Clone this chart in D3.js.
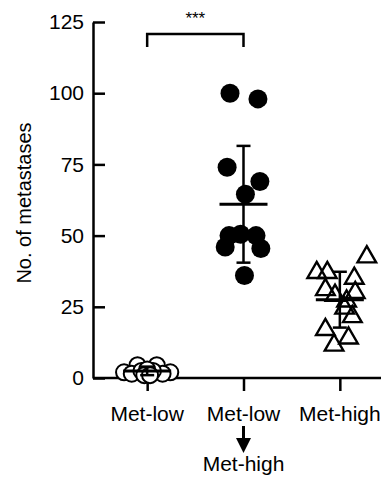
<!DOCTYPE html>
<html>
<head>
<meta charset="utf-8">
<script src="https://cdn.jsdelivr.net/npm/d3@7"></script>
<style>
  body { margin: 0; background: #fff; }
  text { font-family: "Liberation Sans", Arial, sans-serif; fill: #000; }
</style>
</head>
<body>
<div id="grafica"></div>
<script>
// --- data
const categories = ['lowLow', 'lowHigh', 'high'];
const yTicks = [0, 25, 50, 75, 100, 125];

// Met-low (open circles)
const metLow = [2, 4.5, 4.5, 2, 1.5, 1.5, 2.5, 2.5, 3, 1, 1];
const metLowJitter = [-0.24, -0.1, 0.1, 0.24, -0.16, 0.16, -0.06, 0.06, 0, -0.03, 0.03];

// Met-low -> Met-high (filled circles)
const metLowHigh = [100, 98, 74, 69, 64.5, 50, 50.5, 50, 46, 45.5, 36];
const metLowHighJitter = [-0.14, 0.15, -0.17, 0.17, 0.02, -0.15, -0.03, 0.13, -0.19, 0.18, 0.01];

// Met-high (open triangles)
const metHigh = [42.5, 37, 37, 35, 31, 29, 30, 27, 24.5, 21.5, 17, 14, 11.5];
const metHighJitter = [0.28, -0.24, -0.13, 0.15, -0.15, -0.05, 0.16, 0.07, 0.05, 0.13, -0.15, 0.09, -0.06];

// mean and SD per group
const means = [2.5, 61, 27.5];
const sds = [1.5, 20.5, 9.8];

const widthApp = 381, heightApp = 477;
const left = 93, bottom = 378;
const font = '"Liberation Sans", Arial, sans-serif';

const svg = d3.select('#grafica')
  .append('svg')
  .attr('width', widthApp)
  .attr('height', heightApp);

const y = d3.scaleLinear().domain([0, 125]).range([bottom, 22]);
const x = d3.scalePoint().domain(categories).range([99, 388]).padding(0.5);
const step = x.step();

// y axis, ticks pointing inward
const yAxis = svg.append('g')
  .attr('transform', `translate(${left},0)`)
  .call(d3.axisLeft(y).tickValues(yTicks).tickSize(-12).tickPadding(9).tickSizeOuter(0));
yAxis.select('.domain').attr('stroke-width', 2.5);
yAxis.selectAll('.tick line').attr('stroke-width', 2.5);
yAxis.selectAll('.tick text').attr('font-size', 21).attr('font-family', font);

// x axis
const xAxis = svg.append('g')
  .attr('transform', `translate(0,${bottom})`)
  .call(d3.axisBottom(x).tickSize(13).tickFormat(() => ''));
xAxis.select('.domain').attr('d', `M${left},0H${widthApp}`).attr('stroke-width', 2.5);
xAxis.selectAll('.tick line').attr('stroke-width', 2.5);

// x labels
const labY = 421;
svg.append('text').attr('x', x('lowLow')).attr('y', labY).attr('text-anchor', 'middle').attr('font-size', 21).text('Met-low');
svg.append('text').attr('x', x('lowHigh')).attr('y', labY).attr('text-anchor', 'middle').attr('font-size', 21).text('Met-low');
svg.append('text').attr('x', x('high')).attr('y', labY).attr('text-anchor', 'middle').attr('font-size', 21).text('Met-high');
svg.append('text').attr('x', x('lowHigh')).attr('y', 471).attr('text-anchor', 'middle').attr('font-size', 21).text('Met-high');

// arrow
const ax = x('lowHigh');
svg.append('line').attr('x1', ax).attr('x2', ax).attr('y1', 426).attr('y2', 442)
  .attr('stroke', '#000').attr('stroke-width', 3);
svg.append('path').attr('d', `M${ax - 7.5},${438}L${ax + 7.5},${438}L${ax},${453}Z`).attr('fill', '#000');

// y title
svg.append('text')
  .attr('transform', `translate(31,${(y(0) + y(125)) / 2 + 3}) rotate(-90)`)
  .attr('text-anchor', 'middle')
  .attr('font-size', 20)
  .text('No. of metastases');

// significance bracket
const bracketY = 34;
svg.append('path')
  .attr('d', `M${x('lowLow')},${bracketY + 13}V${bracketY}H${x('lowHigh')}V${bracketY + 13}`)
  .attr('fill', 'none').attr('stroke', '#000').attr('stroke-width', 2.5);
svg.append('text').attr('x', (x('lowLow') + x('lowHigh')) / 2).attr('y', 24)
  .attr('text-anchor', 'middle').attr('font-size', 17).text('***');

const plot = svg.append('g');

// Met-low open circles
plot.selectAll('circle.low')
  .data(metLow)
  .enter()
  .append('circle')
  .attr('class', 'low')
  .attr('cx', (d, i) => x('lowLow') + metLowJitter[i] * step)
  .attr('cy', (d) => y(d))
  .attr('r', 8)
  .attr('fill', '#fff')
  .attr('stroke', '#000')
  .attr('stroke-width', 2);

// Met-low -> Met-high filled circles
plot.selectAll('circle.lowhigh')
  .data(metLowHigh)
  .enter()
  .append('circle')
  .attr('class', 'lowhigh')
  .attr('cx', (d, i) => x('lowHigh') + metLowHighJitter[i] * step)
  .attr('cy', (d) => y(d))
  .attr('r', 9.5)
  .attr('fill', '#000');

// Met-high triangles
const tri = d3.symbol().type(d3.symbolTriangle).size(150);
plot.selectAll('path.high')
  .data(metHigh)
  .enter()
  .append('path')
  .attr('class', 'high')
  .attr('d', tri)
  .attr('transform', (d, i) => `translate(${x('high') + metHighJitter[i] * step},${y(d)})`)
  .attr('fill', 'none')
  .attr('stroke', '#000')
  .attr('stroke-width', 2.4);

// mean +- SD
const bars = svg.append('g');
categories.forEach((c, i) => {
  const cx = x(c);
  bars.append('line').attr('x1', cx).attr('x2', cx)
    .attr('y1', y(means[i] - sds[i])).attr('y2', y(means[i] + sds[i]))
    .attr('stroke', '#000').attr('stroke-width', 2.5);
  [means[i] - sds[i], means[i] + sds[i]].forEach((v) => {
    bars.append('line').attr('x1', cx - 7).attr('x2', cx + 7)
      .attr('y1', y(v)).attr('y2', y(v))
      .attr('stroke', '#000').attr('stroke-width', 2.5);
  });
  bars.append('line').attr('x1', cx - 24).attr('x2', cx + 24)
    .attr('y1', y(means[i])).attr('y2', y(means[i]))
    .attr('stroke', '#000').attr('stroke-width', 3);
});
</script>
</body>
</html>
